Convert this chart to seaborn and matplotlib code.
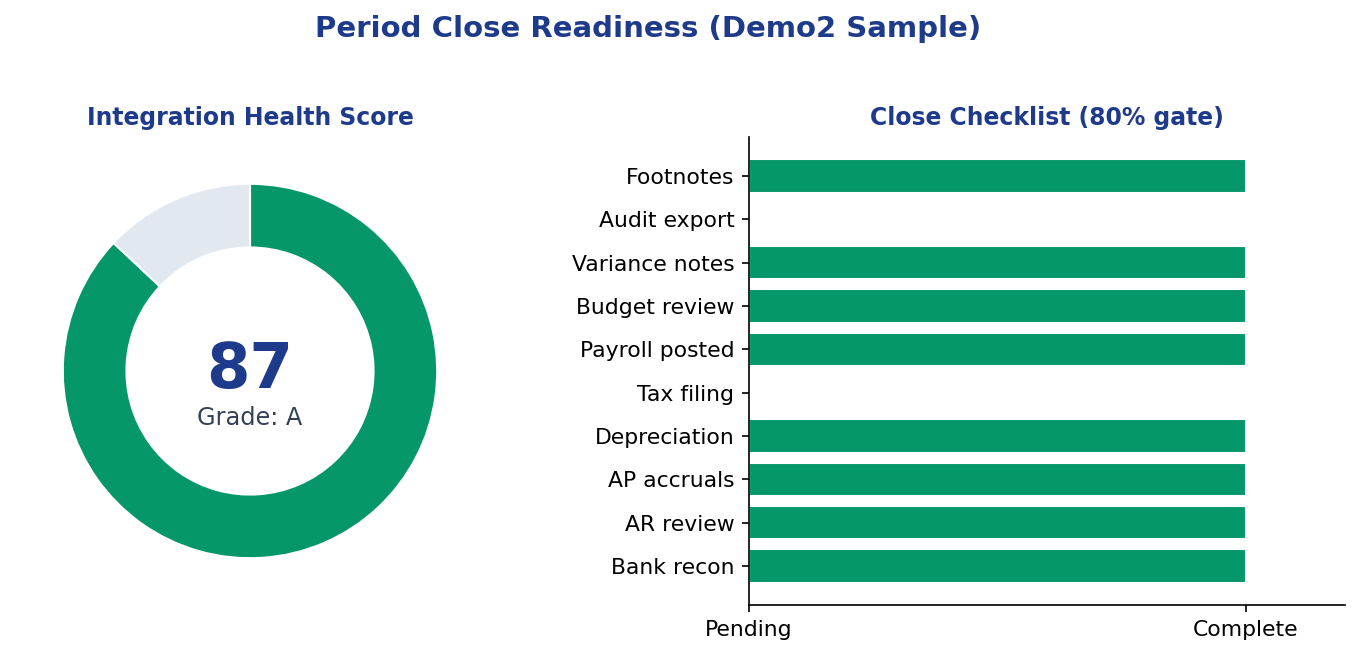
import matplotlib
matplotlib.use("Agg")
import matplotlib.pyplot as plt
import seaborn as sns
import pandas as pd

# --- Data ---
health_score = 87
health_grade = "A"
tasks = ["Bank recon", "AR review", "AP accruals", "Depreciation", "Tax filing",
         "Payroll posted", "Budget review", "Variance notes", "Audit export", "Footnotes"]
task_done = [1, 1, 1, 1, 0, 1, 1, 1, 0, 1]
status_ticks = [0, 1]
status_labels = ["Pending", "Complete"]

# --- Style ---
GREEN = "#059669"
TRACK = "#e2e8f0"
NAVY = "#1e3a8a"
SLATE = "#334155"

sns.set_style("ticks")
plt.rcParams['font.family'] = ['DejaVu Sans']

DPI = 150
fig = plt.figure(figsize=(1360 / DPI, 660 / DPI), dpi=DPI)
ax_pie = fig.add_axes([16 / 1360, 0.0833, 468 / 1360, 0.7091])
ax_bar = fig.add_axes([749 / 1360, 0.0833, 596 / 1360, 0.7091])

# --- Donut ---
ax_pie.pie([health_score, 100 - health_score], colors=[GREEN, TRACK],
           startangle=90, counterclock=False,
           wedgeprops=dict(width=0.34, edgecolor="white", linewidth=1))
ax_pie.set_aspect("equal")
ax_pie.text(0, 0.0, f"{health_score}", ha="center", va="center",
            fontsize=30, fontweight="bold", color=NAVY)
ax_pie.text(0, -0.25, f"Grade: {health_grade}", ha="center", va="center",
            fontsize=11.5, color=SLATE)
ax_pie.set_title("Integration Health Score", fontsize=11.3, fontweight="bold",
                 color=NAVY, pad=5.6)

# --- Checklist ---
df = pd.DataFrame({"task": tasks, "done": task_done})
sns.barplot(data=df, x="done", y="task", order=tasks[::-1], orient="h",
            color=GREEN, width=0.77, saturation=1, ax=ax_bar)
ax_bar.set_xlim(0, 1.2)
ax_bar.set_ylim(len(tasks) - 1 + 0.9, -0.9)
ax_bar.set_xticks(status_ticks)
ax_bar.set_xticklabels(status_labels)
ax_bar.set_xlabel("")
ax_bar.set_ylabel("")
ax_bar.tick_params(labelsize=10.5, colors="black", length=3.5, width=0.8, pad=3.5)
for s in ["left", "bottom"]:
    ax_bar.spines[s].set_color("black")
    ax_bar.spines[s].set_linewidth(0.8)
sns.despine(ax=ax_bar)
ax_bar.set_title("Close Checklist (80% gate)", fontsize=11.3, fontweight="bold",
                 color=NAVY, pad=5.6)

fig.suptitle("Period Close Readiness (Demo2 Sample)", fontsize=14,
             fontweight="bold", color=NAVY, x=0.4768, y=0.977)

fig.savefig("out.png", dpi=DPI)
